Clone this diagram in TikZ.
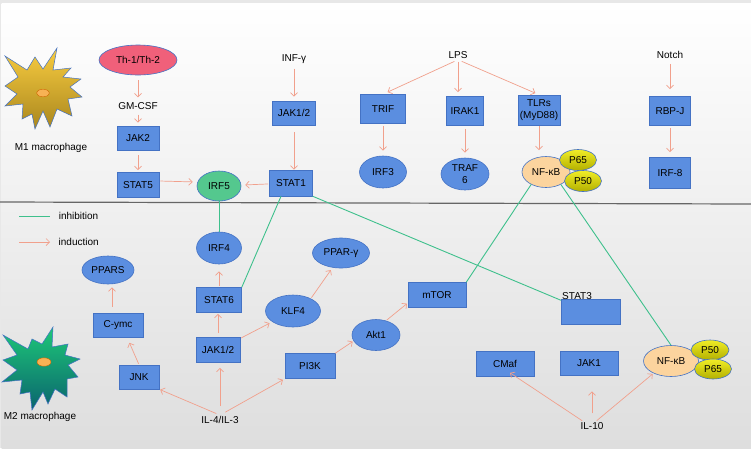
\documentclass[tikz,border=0pt]{standalone}
\usepackage{fontspec}
\setmainfont{Liberation Sans}
\usepackage{tikz}
\usetikzlibrary{shapes,arrows.meta,positioning,calc}

\definecolor{boxblue}{RGB}{91,142,224}
\definecolor{edgeblue}{RGB}{68,114,196}
\definecolor{indred}{RGB}{241,160,140}
\definecolor{inhgreen}{RGB}{62,192,140}
\definecolor{irfgreen}{RGB}{84,200,142}
\definecolor{thred}{RGB}{240,96,122}
\definecolor{nfkborange}{RGB}{252,212,158}
\definecolor{pyellow}{RGB}{238,234,0}
\definecolor{spot}{RGB}{247,178,84}

\tikzset{
  box/.style={draw=edgeblue, fill=boxblue, line width=0.6pt, inner sep=0pt, minimum height=25pt, align=center},
  oval/.style={ellipse, draw=edgeblue, fill=boxblue, line width=0.6pt, inner sep=0pt, align=center},
  sub/.style={ellipse, draw=edgeblue, line width=0.6pt, top color=pyellow!85!white, bottom color=pyellow!75!black, inner sep=0pt, minimum width=37pt, minimum height=21pt},
  txt/.style={inner sep=1pt},
  ind/.style={draw=indred, line width=0.7pt, -{Straight Barb[length=3.5pt,width=7pt]}, shorten <=4pt, shorten >=4pt},
  inh/.style={draw=inhgreen, line width=0.9pt},
}

\begin{document}
\begin{tikzpicture}[x=1pt, y=-1pt]
        \useasboundingbox (0,0) rectangle (751,448);
        % background
        \fill[gray!18] (0,0) rectangle (751,448);
        \shade[top color=white, middle color=gray!8, bottom color=gray!26] (1.5,3) rectangle (751,448);
        \draw[black!60, line width=1.2pt] (0,202) -- (751,204);

        % macrophages
        \shadedraw[top color={rgb,255:red,248;green,204;blue,64}, bottom color={rgb,255:red,170;green,135;blue,30}, draw=edgeblue, line width=0.5pt]
          (5,56) -- (27,70) -- (35,57) -- (43,69) -- (57,48) -- (53,70) -- (71,68) -- (63,77) -- (81,79) -- (70,87) -- (82,97) -- (68,99)
          -- (72,116) -- (57,109) -- (50,127) -- (43,111) -- (35,129) -- (32,114) -- (22,119) -- (23,104) -- (5,106) -- (17,94) -- (5,86) -- (18,77) -- cycle;
        \filldraw[fill=spot, draw=orange!80!black, line width=0.4pt] (43,93) ellipse (6.5pt and 3.8pt);
        \node[txt] (m1) at (51,148) {M1 macrophage};

        \shadedraw[top color={rgb,255:red,30;green,200;blue,120}, bottom color={rgb,255:red,10;green,100;blue,110}, draw=edgeblue, line width=0.5pt]
          (3,335) -- (28,349) -- (32,339) -- (42,344) -- (53,327) -- (52,347) -- (68,344) -- (65,355) -- (80,359) -- (68,365) -- (78,377) -- (67,379)
          -- (67,397) -- (55,389) -- (48,404) -- (43,392) -- (32,410) -- (30,392) -- (20,394) -- (22,380) -- (2,382) -- (17,370) -- (3,360) -- (17,355) -- cycle;
        \filldraw[fill=spot, draw=orange!80!black, line width=0.4pt] (44,362) ellipse (7pt and 4.2pt);
        \node[txt] (m2) at (40,417) {M2 macrophage};

        % M1 side
        \node[oval, fill=thred, minimum width=78pt, minimum height=30pt] (th) at (138,60) {Th-1/Th-2};
        \node[txt] (gmcsf) at (138,106) {GM-CSF};
        \node[box, minimum width=42pt, minimum height=24pt] (jak2) at (138,138) {JAK2};
        \node[box, minimum width=42pt] (stat5) at (138,185) {STAT5};
        \node[oval, fill=irfgreen, minimum width=44pt, minimum height=30pt] (irf5) at (219,186) {IRF5};
        \node[txt] (infg) at (294,59) {INF-γ};
        \node[box, minimum width=43pt, minimum height=24pt] (jak12) at (294,113) {JAK1/2};
        \node[box, minimum width=43pt, minimum height=26pt] (stat1) at (291,183) {STAT1};
        \node[txt] (lps) at (458,55) {LPS};
        \node[box, minimum width=45pt, minimum height=29pt] (trif) at (383,109) {TRIF};
        \node[box, minimum width=37pt, minimum height=29pt] (irak1) at (465,111) {IRAK1};
        \node[box, minimum width=42pt, minimum height=30pt] (tlrs) at (539,110) {TLRs\\(MyD88)};
        \node[oval, minimum width=47pt, minimum height=32pt] (irf3) at (383,172) {IRF3};
        \node[oval, minimum width=48pt, minimum height=32pt] (traf6) at (465,174) {TRAF\\6};
        \node[oval, fill=nfkborange, minimum width=48pt, minimum height=31pt] (nfkb) at (546,172) {NF-κB};
        \node[sub] (p65) at (578,160) {P65};
        \node[sub] (p50) at (583,181) {P50};
        \node[txt] (notch) at (670,55) {Notch};
        \node[box, minimum width=41pt, minimum height=29pt] (rbpj) at (670,111) {RBP-J};
        \node[box, minimum width=41pt, minimum height=31pt] (irf8) at (670,173) {IRF-8};

        \draw[ind, shorten <=5pt] (th) -- (gmcsf);
        \draw[ind, shorten >=3pt] (gmcsf) -- (jak2);
        \draw[ind, shorten <=5pt, shorten >=2pt] (jak2) -- (stat5);
        \draw[ind, shorten <=1pt] ([yshift=4pt]stat5.east) -- ([yshift=4pt]irf5.west);
        \draw[ind, shorten <=1pt] (stat1) -- (irf5);
        \draw[ind] (infg) -- (jak12);
        \draw[ind, shorten <=7pt, shorten >=0pt] (jak12.south) -- (jak12.south |- stat1.north);
        \draw[ind, shorten >=5pt] (lps.south) -- (trif.north);
        \draw[ind, shorten <=2pt] (lps.south) -- (lps.south |- irak1.north);
        \draw[ind] (lps.south) -- (tlrs.north);
        \draw[ind, shorten <=2pt, shorten >=5pt] (trif) -- (irf3);
        \draw[ind, shorten <=3pt, shorten >=5pt] (irak1) -- (traf6);
        \draw[ind, shorten <=1pt, shorten >=6pt] (tlrs.south) -- (tlrs.south |- nfkb.north);
        \draw[ind, shorten >=7pt] (notch) -- (rbpj);
        \draw[ind, shorten <=2pt, shorten >=5pt] (rbpj) -- (irf8);

        % legend
        \draw[inh] (19,216) -- (50,216) node[right=5pt] (inhlbl) {inhibition};
        \draw[ind, shorten <=0pt, shorten >=0pt] (19,242) -- (50,242) node[right=5pt] (indlbl) {induction};

        % M2 side
        \node[oval, minimum width=45pt, minimum height=32pt] (irf4) at (219,248) {IRF4};
        \node[box, minimum width=45pt] (stat6) at (219,300) {STAT6};
        \node[box, minimum width=44pt] (jak12b) at (218,350) {JAK1/2};
        \node[oval, minimum width=55pt, minimum height=32pt] (klf4) at (293,311) {KLF4};
        \node[oval, minimum width=57pt, minimum height=30pt] (pparg) at (341,253) {PPAR-γ};
        \node[oval, minimum width=52pt, minimum height=28pt] (ppars) at (108,270) {PPARS};
        \node[box, minimum width=50pt, minimum height=24pt] (cymc) at (118,325) {C-ymc};
        \node[box, minimum width=40pt, minimum height=24pt] (jnk) at (139,377) {JNK};
        \node[box, minimum width=50pt] (pi3k) at (310,366) {PI3K};
        \node[oval, minimum width=48pt, minimum height=31pt] (akt1) at (376,335) {Akt1};
        \node[box, minimum width=58pt] (mtor) at (437,295) {mTOR};
        \node[box, minimum width=59pt] (stat3) at (591,312) {};
        \node[txt, anchor=base west] (stat3lbl) at (561,299) {STAT3};
        \node[box, minimum width=58pt] (cmaf) at (505,364) {CMaf};
        \node[box, minimum width=58pt, minimum height=24pt] (jak1) at (589,363) {JAK1};
        \node[oval, fill=nfkborange, minimum width=55pt, minimum height=31pt] (nfkb2) at (671,361) {NF-κB};
        \node[sub, minimum width=38pt, minimum height=20pt] (p50b) at (710,350) {P50};
        \node[sub, minimum height=20pt] (p65b) at (713,369) {P65};
        \node[txt] (il4) at (220,420) {IL-4/IL-3};
        \node[txt] (il10) at (592,426) {IL-10};

        \draw[ind, shorten <=1pt, shorten >=7pt] (stat6) -- (irf4);
        \draw[ind, shorten >=1pt] (jak12b.north) -- (jak12b.north |- stat6.south);
        \draw[ind, shorten <=1pt, shorten >=3pt] (jak12b) -- (klf4);
        \draw[ind, shorten <=1pt, shorten >=3pt] (klf4.35) -- (pparg.240);
        \draw[ind, shorten <=6pt, shorten >=3pt] ([xshift=-6pt]cymc.north) -- ([xshift=-6pt]cymc.north |- ppars.south);
        \draw[ind, shorten <=1pt, shorten >=6pt] (jnk.north) -- ([xshift=9pt]cymc.south);
        \draw[ind, shorten >=1pt] (il4.north) -- (jnk.south east);
        \draw[ind, shorten <=9pt, shorten >=5pt] (il4.north) -- (il4.north |- jak12b.south);
        \draw[ind, shorten <=6pt, shorten >=2pt] (il4.north) -- (pi3k.south west);
        \draw[ind, shorten <=0pt, shorten >=1pt] (pi3k.north east) -- (akt1.195);
        \draw[ind, shorten <=1pt, shorten >=1pt] (akt1.55) -- ([yshift=-8pt]mtor.west);
        \draw[ind, shorten <=1pt, shorten >=0pt] ([xshift=-9pt]il10.north) -- ([xshift=5pt,yshift=4pt]cmaf.south);
        \draw[ind, shorten <=8pt, shorten >=16pt] (il10.north) -- (il10.north |- jak1.south);
        \draw[ind, shorten <=1pt, shorten >=1pt] ([xshift=4pt]il10.north) -- (nfkb2.215);

        % inhibition
        \draw[inh] (irf5) -- (irf4);
        \draw[inh] ([xshift=-10pt]stat1.south) -- (stat6.north east);
        \draw[inh] (stat1.south east) -- (stat3lbl.south west);
        \draw[inh] (nfkb.220) -- (mtor.north east);
        \draw[inh] (nfkb.320) -- (nfkb2.north);
    \end{tikzpicture}
\end{document}
